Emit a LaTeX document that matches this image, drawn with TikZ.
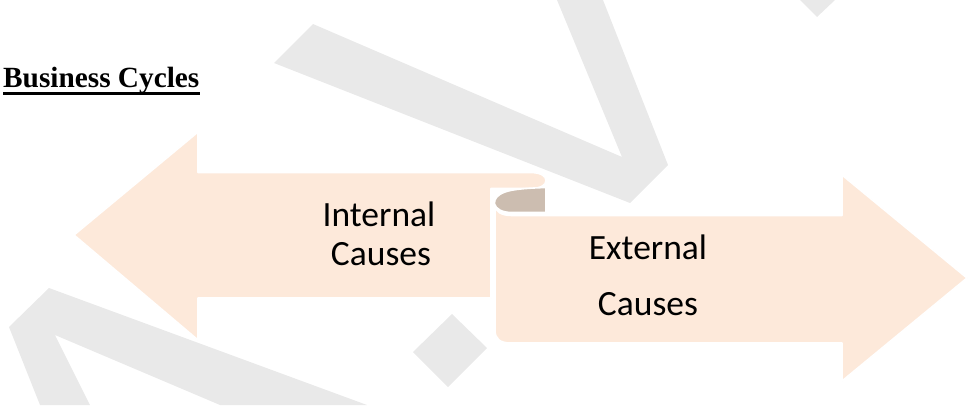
\documentclass[tikz,border=0pt]{standalone}
\usepackage{fontspec}
\setmainfont{Liberation Serif}
\newfontfamily\calib{Carlito}
\definecolor{peach}{RGB}{253,233,218}
\definecolor{curlc}{RGB}{204,189,176}
\definecolor{wm}{RGB}{233,233,233}
\begin{document}
\begin{tikzpicture}[x=1pt,y=-1pt,
  wmark/.style={fill=wm},
  ribbon/.style={fill=peach,draw=white,line width=1.6pt,line join=round},
  curlpart/.style={fill=curlc,draw=white,line width=1.6pt,line join=round},
  lbl/.style={font=\calib\fontsize{35.5}{40}\selectfont,inner sep=0pt,text=black},
  ttl/.style={font=\bfseries\fontsize{29.3}{34}\selectfont,inner sep=0pt,anchor=base west}]
\useasboundingbox (0,0) rectangle (970,405);
% watermark
\fill[wmark] (313,24) -- (274,63) -- (630,203) -- (668,165) -- (603,0) -- (557,0) -- (622,157) -- cycle;
\fill[wmark] (800,0) -- (835,0) -- (817,17) -- cycle;
\fill[wmark] (452,314) -- (413,352) -- (448,387) -- (487,348) -- cycle;
\fill[wmark] (49,288) -- (367,405) -- (220,405) -- (55,335) -- (90,405) -- (40,405) -- (9,327) -- cycle;
% title
\node[ttl] (title) at (3,87) {Business Cycles};
\fill ([yshift=-5pt]title.base west) rectangle ([yshift=-8pt]title.base east);
% left arrow with top flap
\path[ribbon] (74,235) -- (198,132) -- (198,172.5) -- (530,172.5)
  .. controls (541,172.5) and (546,176) .. (546,180.5)
  .. controls (546,185) and (541,188.5) .. (530,188.5)
  -- (491,188.5) -- (491,298) -- (198,298) -- (198,340) -- cycle;
% right arrow
\path[ribbon] (495,205) .. controls (495,212) and (502,215.5) .. (512,215.5)
  -- (842,215.5) -- (842,175) -- (967,278) -- (842,381) -- (842,343)
  -- (511,343) .. controls (500,343) and (495,339) .. (495,330) -- cycle;
% curl
\path[curlpart] (546,187.5) .. controls (530,188) and (513,189) .. (505,192)
  .. controls (497,195) and (494,199) .. (494.5,204)
  .. controls (496,209) and (502,212.5) .. (512,212.5) -- (546,212.5) -- cycle;
% labels
\node[lbl,anchor=base] (int1) at (379,226) {Internal};
\node[lbl,anchor=base] (int2) at (381,265) {Causes};
\node[lbl,anchor=base] (ext1) at (648,259) {External};
\node[lbl,anchor=base] (ext2) at (648,315) {Causes};
\end{tikzpicture}
\end{document}
